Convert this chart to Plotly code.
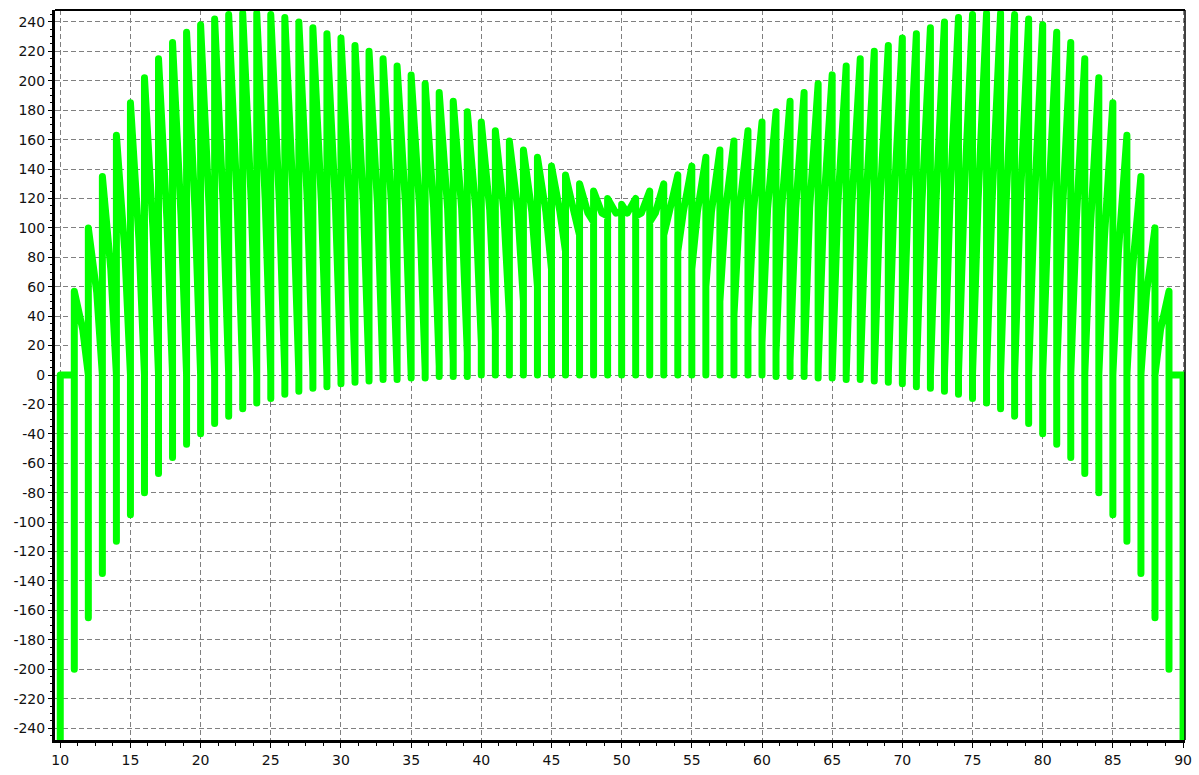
import plotly.graph_objects as go

# integer positions 10..90
xs = list(range(10, 91))

# peak value at each integer
highs = [0,
         57, 100, 135, 163, 185, 202, 215, 226, 233, 238,
         242, 245, 246, 246, 245, 243, 240, 236, 232, 229,
         224, 220, 215, 210, 204, 198, 192, 186, 179, 172,
         166, 159, 153, 148, 142, 136, 130, 125, 120, 116,
         120, 125, 130, 136, 142, 148, 153, 159, 166, 172,
         179, 186, 192, 198, 204, 210, 215, 220, 224, 229,
         232, 236, 240, 243, 245, 246, 246, 245, 242, 238,
         233, 226, 215, 202, 185, 163, 135, 100, 57, 0]

# bottom of the spike at each integer
lows = [-260,
        -200, -165, -135, -113, -95, -80, -67, -56, -47, -40,
        -33, -28, -23, -19, -16, -13, -11, -9, -8, -6,
        -5, -4, -3, -3, -2, -2, -1, -1, -1, 0,
        0, 0, 0, 0, 0, 0, 0, 0, 0, 0,
        0, 0, 0, 0, 0, 0, 0, 0, 0, 0,
        -1, -1, -1, -2, -2, -3, -3, -4, -5, -6,
        -8, -9, -11, -13, -16, -19, -23, -28, -33, -40,
        -47, -56, -67, -80, -95, -113, -135, -165, -200, -260]

# value where the slope meets the spike (arrival on the left half, departure on the right half)
joins = [-260,
         0, 0, 0, 0, 0, 0, 0, 0, 0, 0,
         0, 0, 0, 0, 0, 0, 0, 0, 0, 0,
         0, 0, 0, 0, 0, 3, 6, 10, 15, 22,
         30, 40, 50, 60, 72, 84, 95, 104, 108, 111,
         108, 104, 95, 84, 72, 60, 50, 40, 30, 22,
         15, 10, 6, 3, 0, 0, 0, 0, 0, 0,
         0, 0, 0, 0, 0, 0, 0, 0, 0, 0,
         0, 0, 0, 0, 0, 0, 0, 0, 0, -260]

# knee of the slope inside each interval n..n+1, n = 10..89
mids = [0, 31, 56, 72, 84, 93, 100, 105, 109, 112,
        115, 117, 118, 119, 119, 119, 119, 118, 118, 117,
        117, 116, 116, 115, 115, 114, 114, 113, 113, 113,
        112, 112, 112, 111, 111, 111, 111, 110, 110, 110,
        110, 110, 110, 111, 111, 111, 111, 112, 112, 112,
        113, 113, 113, 114, 114, 115, 115, 116, 116, 117,
        117, 118, 118, 119, 119, 119, 119, 118, 117, 115,
        112, 109, 105, 100, 93, 84, 72, 56, 31, 0]

y_ticks = list(range(-240, 241, 20))
x_ticks = list(range(10, 91, 5))

px, py = [], []
for i, n in enumerate(xs):
    if n <= 50:
        seq = [joins[i], lows[i], highs[i]]
    else:
        seq = [highs[i], lows[i], joins[i]]
    for v in seq:
        px.append(n)
        py.append(v)
    if i < len(mids):
        px.append(n + (0.6 if n < 50 else 0.4))
        py.append(mids[i])

fig = go.Figure()
fig.add_trace(go.Scatter(x=px, y=py, mode="lines",
                         line=dict(color="#00ff00", width=7, simplify=False),
                         hoverinfo="skip", showlegend=False))

font = dict(family="DejaVu Sans", size=14, color="#111111")
fig.update_layout(
    width=1199, height=775,
    margin=dict(l=55, r=7, t=10, b=33),
    paper_bgcolor="white", plot_bgcolor="white",
    showlegend=False,
    xaxis=dict(range=[9.625, 90.14], tickvals=x_ticks, ticktext=[str(v) for v in x_ticks],
               showgrid=True, gridcolor="#808080", gridwidth=1, griddash="5px,3px",
               zeroline=False, showline=True, linecolor="black", linewidth=3,
               ticks="outside", ticklen=5, tickcolor="black", tickfont=font,
               minor=dict(dtick=1.25, tick0=10, ticks="outside", ticklen=3,
                          tickcolor="black", showgrid=False)),
    yaxis=dict(range=[-248.1, 248.1], tickvals=y_ticks, ticktext=[str(v) for v in y_ticks],
               showgrid=True, gridcolor="#808080", gridwidth=1, griddash="5px,3px",
               zeroline=False, showline=True, linecolor="black", linewidth=3,
               ticks="outside", ticklen=4, tickcolor="black", tickfont=font,
               minor=dict(dtick=5, tick0=0, ticks="outside", ticklen=2,
                          tickcolor="black", showgrid=False)),
    shapes=[
        dict(type="line", xref="paper", yref="paper", x0=0, x1=1, y0=1, y1=1,
             line=dict(color="black", width=2)),
        dict(type="line", xref="paper", yref="paper", x0=1, x1=1, y0=0, y1=1,
             line=dict(color="black", width=1.5)),
    ],
)

round_joins = """
document.querySelectorAll('.scatterlayer path.js-line').forEach(function (p) {
  p.style.strokeLinejoin = 'round';
  p.style.strokeLinecap = 'round';
});
"""

fig.write_html("out.html", post_script=round_joins)
